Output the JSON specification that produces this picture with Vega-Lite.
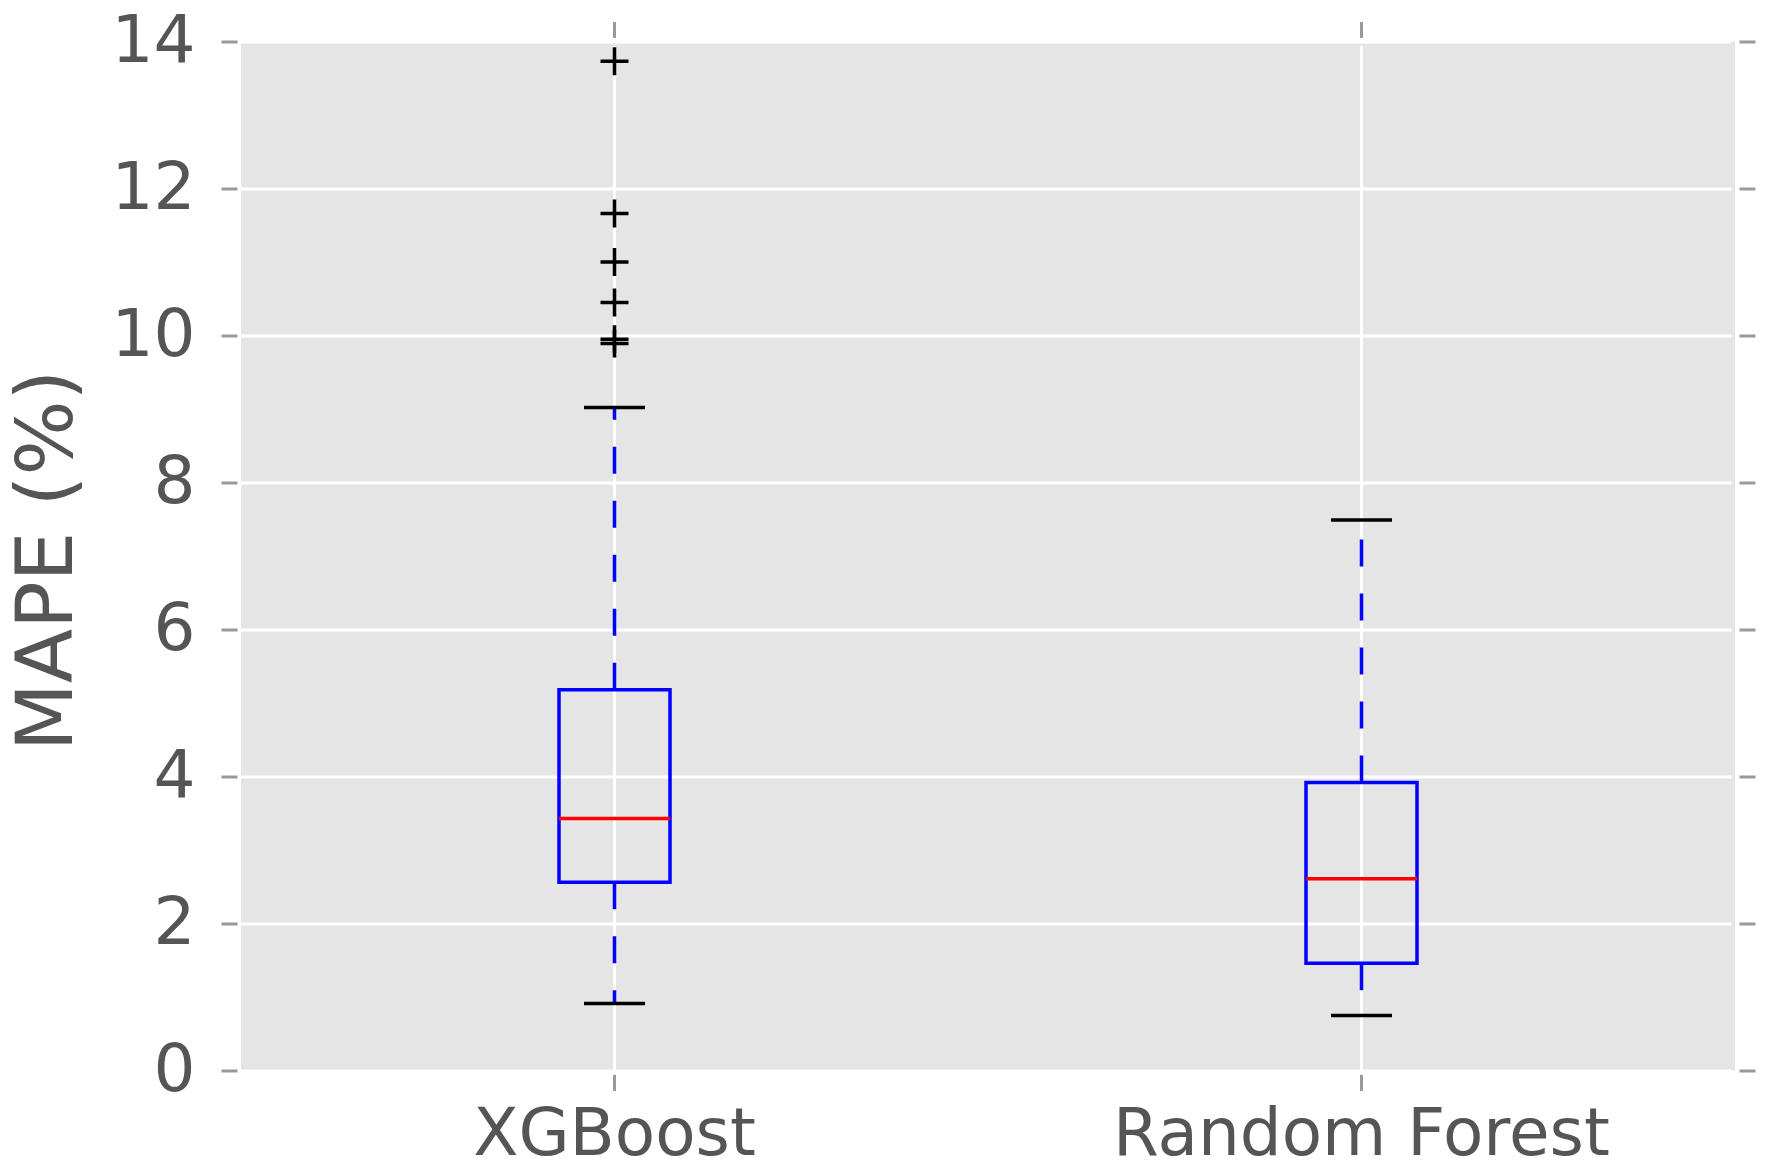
{
  "$schema": "https://vega.github.io/schema/vega-lite/v6.json",
  "width": 1494,
  "height": 1029,
  "autosize": {"type": "none"},
  "padding": {"left": 241, "top": 41.5, "right": 30, "bottom": 97.5},
  "background": "white",
  "config": {
    "view": {"fill": "#E5E5E5", "stroke": null},
    "font": "DejaVu Sans",
    "axis": {
      "labelFont": "DejaVu Sans",
      "labelFontSize": 66,
      "labelColor": "#555555",
      "labelLimit": 0,
      "tickColor": "#999999",
      "tickWidth": 3,
      "tickSize": 16,
      "offset": 4,
      "domain": false,
      "gridColor": "#FFFFFF",
      "gridWidth": 3,
      "gridOpacity": 1,
      "titleFont": "DejaVu Sans",
      "titleFontSize": 79,
      "titleColor": "#555555",
      "titleFontWeight": "normal"
    }
  },
  "datasets": {
    "summary": [
      {"model": "XGBoost", "lower": 0.91, "q1": 2.56, "median": 3.43, "q3": 5.18, "upper": 9.02},
      {"model": "Random Forest", "lower": 0.75, "q1": 1.46, "median": 2.61, "q3": 3.92, "upper": 7.49}
    ],
    "outliers": [
      {"model": "XGBoost", "value": 13.73},
      {"model": "XGBoost", "value": 11.66},
      {"model": "XGBoost", "value": 11.0},
      {"model": "XGBoost", "value": 10.45},
      {"model": "XGBoost", "value": 9.95},
      {"model": "XGBoost", "value": 9.89}
    ]
  },
  "layer": [
    {
      "data": {"name": "summary"},
      "mark": {"type": "rule", "color": "#0000FF", "opacity": 1, "strokeWidth": 3.5, "strokeDash": [27, 27], "strokeCap": "butt"},
      "encoding": {
        "x": {
          "field": "model", "type": "nominal",
          "scale": {"domain": ["XGBoost", "Random Forest"], "paddingInner": 0, "paddingOuter": 0},
          "axis": {"orient": "bottom", "grid": true, "labelAngle": 0, "labelPadding": 12, "title": null}
        },
        "y": {
          "field": "q3", "type": "quantitative",
          "scale": {"domain": [0, 14], "nice": false, "zero": true},
          "axis": {"orient": "left", "grid": true, "values": [0, 2, 4, 6, 8, 10, 12, 14], "labelPadding": 26, "title": "MAPE (%)", "titleX": -166, "titleY": 518.5, "titleBaseline": "alphabetic", "titleAngle": -90, "titleAlign": "center"}
        },
        "y2": {"field": "upper"}
      }
    },
    {
      "data": {"name": "summary"},
      "mark": {"type": "rule", "color": "#0000FF", "opacity": 1, "strokeWidth": 3.5, "strokeDash": [27, 27], "strokeCap": "butt"},
      "encoding": {
        "x": {"field": "model", "type": "nominal", "axis": null},
        "y": {"field": "q1", "type": "quantitative", "axis": null},
        "y2": {"field": "lower"}
      }
    },
    {
      "data": {"name": "summary"},
      "mark": {"type": "tick", "color": "#000000", "opacity": 1, "size": 61, "thickness": 3.5},
      "encoding": {
        "x": {"field": "model", "type": "nominal", "axis": null},
        "y": {"field": "upper", "type": "quantitative", "axis": null}
      }
    },
    {
      "data": {"name": "summary"},
      "mark": {"type": "tick", "color": "#000000", "opacity": 1, "size": 61, "thickness": 3.5},
      "encoding": {
        "x": {"field": "model", "type": "nominal", "axis": null},
        "y": {"field": "lower", "type": "quantitative", "axis": null}
      }
    },
    {
      "data": {"name": "summary"},
      "mark": {"type": "bar", "fill": "transparent", "stroke": "#0000FF", "strokeOpacity": 1, "strokeWidth": 3.5, "size": 111},
      "encoding": {
        "x": {"field": "model", "type": "nominal", "axis": null},
        "y": {"field": "q1", "type": "quantitative", "axis": null},
        "y2": {"field": "q3"}
      }
    },
    {
      "data": {"name": "summary"},
      "mark": {"type": "tick", "color": "#FF0000", "opacity": 1, "size": 111, "thickness": 3.5},
      "encoding": {
        "x": {"field": "model", "type": "nominal", "axis": {"orient": "top", "labels": false, "grid": false, "title": null}},
        "y": {"field": "median", "type": "quantitative", "axis": {"orient": "right", "labels": false, "grid": false, "title": null, "values": [0, 2, 4, 6, 8, 10, 12, 14]}}
      }
    },
    {
      "data": {"name": "outliers"},
      "mark": {"type": "point", "shape": "M-1,0L1,0M0,-1L0,1", "size": 784, "filled": false, "stroke": "#000000", "strokeWidth": 3.5, "opacity": 1},
      "encoding": {
        "x": {"field": "model", "type": "nominal", "axis": null},
        "y": {"field": "value", "type": "quantitative", "axis": null}
      }
    }
  ],
  "resolve": {"axis": {"x": "independent", "y": "independent"}}
}
